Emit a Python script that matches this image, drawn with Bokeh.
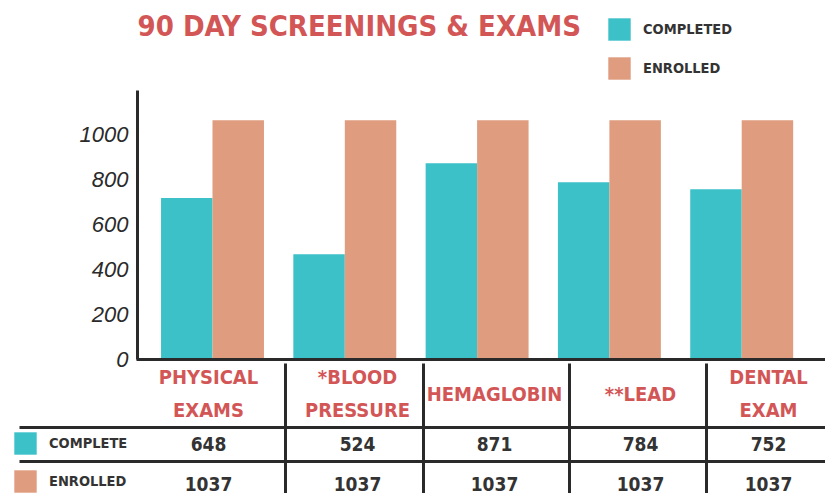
from bokeh.plotting import figure
from bokeh.models import (ColumnDataSource, Range1d, FixedTicker, LinearAxis, Label,
                          Legend, LegendItem, BoxAnnotation)
from bokeh.transform import dodge
from bokeh.embed import file_html
from bokeh.resources import INLINE

# ---- data ----
categories = ["PHYSICAL\nEXAMS", "*BLOOD\nPRESSURE", "HEMAGLOBIN", "**LEAD", "DENTAL\nEXAM"]
completed_bars = [718, 468, 872, 788, 757]
enrolled_bars = [1063, 1063, 1063, 1063, 1063]
table_complete = ["648", "524", "871", "784", "752"]
table_enrolled = ["1037", "1037", "1037", "1037", "1037"]
y_ticks = [0, 200, 400, 600, 800, 1000]
title_text = "90 DAY SCREENINGS & EXAMS"

# ---- style / layout ----
TEAL = "#3cc1c9"
SALMON = "#df9c7e"
RED = "#d35656"
DARK = "#2a2a2a"
TXT = "#333333"
COND = "DejaVu Sans Condensed"

W, H = 825, 493
AXIS_X = 137          # page x of the value axis
BASE_Y = 359          # page y of value 0
TOP_Y = 90            # page y where the value axis ends
PX_PER_UNIT = 0.225
GROUP_STEP = 132.3
FIRST_CENTER = 212

def sx(page_x):
    return page_x

def sy(page_y):
    return H - page_y

def xdata(page_x):
    return (page_x - FIRST_CENTER) / GROUP_STEP

def ydata(page_y):
    return (BASE_Y - page_y) / PX_PER_UNIT

idx = list(range(len(categories)))
src = ColumnDataSource(dict(x=idx, completed=completed_bars, enrolled=enrolled_bars))

p = figure(width=W, height=H, output_backend="svg", toolbar_location=None,
           x_range=Range1d(xdata(0), xdata(W)), y_range=Range1d(ydata(H), ydata(0)),
           x_axis_type=None, y_axis_type=None,
           min_border=0, min_border_left=0, min_border_right=0,
           min_border_top=0, min_border_bottom=0)
p.outline_line_color = None
p.xgrid.visible = False
p.ygrid.visible = False
p.background_fill_color = "white"
p.border_fill_color = "white"

bw = 0.389
r1 = p.vbar(x=dodge("x", -bw / 2, range=p.x_range), top="completed", width=bw, bottom=0,
            source=src, fill_color=TEAL, line_color=None)
r2 = p.vbar(x=dodge("x", bw / 2, range=p.x_range), top="enrolled", width=bw, bottom=0,
            source=src, fill_color=SALMON, line_color=None)

yaxis = LinearAxis(ticker=FixedTicker(ticks=y_ticks), fixed_location=xdata(AXIS_X),
                   bounds=(0, ydata(TOP_Y)))
yaxis.axis_line_width = 3
yaxis.axis_line_color = DARK
yaxis.major_tick_line_color = None
yaxis.minor_tick_line_color = None
yaxis.major_tick_out = 0
yaxis.major_tick_in = 0
yaxis.major_label_standoff = 9
yaxis.major_label_text_font = "Liberation Sans"
yaxis.major_label_text_font_style = "italic"
yaxis.major_label_text_font_size = "22px"
yaxis.major_label_text_color = DARK
p.add_layout(yaxis, "left")

xaxis = LinearAxis(ticker=FixedTicker(ticks=[]), fixed_location=0,
                   bounds=(xdata(AXIS_X - 1.5), xdata(W)))
xaxis.axis_line_width = 3
xaxis.axis_line_color = DARK
xaxis.major_tick_line_color = None
xaxis.minor_tick_line_color = None
xaxis.major_label_text_font_size = "0px"
p.add_layout(xaxis, "below")

# title
p.add_layout(Label(x=sx(137), y=sy(25), x_units="screen", y_units="screen", text=title_text,
                   text_font=COND, text_font_style="bold", text_font_size="29px",
                   text_color=RED, text_baseline="middle", text_align="left"))

legend_style = dict(orientation="vertical", glyph_width=28, glyph_height=28, label_standoff=10,
                    padding=0, margin=0, border_line_color=None, background_fill_alpha=0,
                    label_text_font=COND, label_text_font_style="bold",
                    label_text_font_size="14.5px", label_text_color=TXT,
                    label_text_baseline="middle")

# top legend
leg_top = Legend(items=[LegendItem(label="COMPLETED", renderers=[r1]),
                        LegendItem(label="ENROLLED", renderers=[r2])],
                 location=(sx(605), sy(82)), spacing=11, **legend_style)
p.add_layout(leg_top, "center")

# table legend
leg_tab = Legend(items=[LegendItem(label="COMPLETE", renderers=[r1]),
                        LegendItem(label="ENROLLED", renderers=[r2])],
                 location=(sx(11), sy(495)), spacing=10, **legend_style)
p.add_layout(leg_tab, "center")

# table lines
for y_line in [427, 461]:
    p.add_layout(BoxAnnotation(left=sx(19), right=sx(W + 5), top=sy(y_line - 1.5), bottom=sy(y_line + 1.5),
                               left_units="screen", right_units="screen", top_units="screen",
                               bottom_units="screen", fill_color=DARK, fill_alpha=1, line_color=None))
for x_line in [285, 423, 569, 706]:
    p.add_layout(BoxAnnotation(left=sx(x_line - 1.5), right=sx(x_line + 1.5), top=sy(363), bottom=sy(H + 5),
                               left_units="screen", right_units="screen", top_units="screen",
                               bottom_units="screen", fill_color=DARK, fill_alpha=1, line_color=None))

col_centers = [208, 357, 494, 640, 768]
for cx, cat, c, e in zip(col_centers, categories, table_complete, table_enrolled):
    p.add_layout(Label(x=sx(cx), y=sy(393), x_units="screen", y_units="screen", text=cat,
                       text_font=COND, text_font_style="bold", text_font_size="20px",
                       text_color=RED, text_baseline="middle", text_align="center",
                       text_line_height=1.35))
    p.add_layout(Label(x=sx(cx), y=sy(443), x_units="screen", y_units="screen", text=c,
                       text_font=COND, text_font_style="bold", text_font_size="19px",
                       text_color=TXT, text_baseline="middle", text_align="center"))
    p.add_layout(Label(x=sx(cx), y=sy(483), x_units="screen", y_units="screen", text=e,
                       text_font=COND, text_font_style="bold", text_font_size="19px",
                       text_color=TXT, text_baseline="middle", text_align="center"))

open("out.html", "w").write(file_html(p, INLINE))
